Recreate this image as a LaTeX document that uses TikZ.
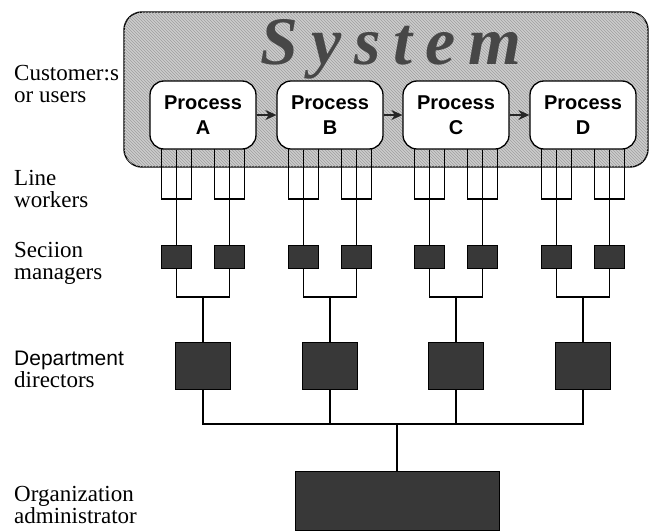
\documentclass[tikz,border=0pt]{standalone}
\usepackage{fontspec}
\setmainfont{Liberation Serif}
\setsansfont{Liberation Sans}
\usetikzlibrary{arrows.meta, patterns, calc}

\begin{document}
\begin{tikzpicture}[x=1pt, y=-1pt,
    process/.style={draw, line width=1.3pt, fill=white, rounded corners=14pt,
        minimum width=106pt, minimum height=68pt, align=center,
        font=\sffamily\bfseries\fontsize{20}{25}\selectfont},
    manager/.style={draw, fill=black!78, minimum width=30pt, minimum height=23pt, inner sep=0pt},
    director/.style={draw, fill=black!78, minimum width=55pt, minimum height=47pt, inner sep=0pt},
    orgbox/.style={draw, fill=black!78, minimum width=204pt, minimum height=59pt, inner sep=0pt},
    wire/.style={line width=1.6pt},
    flow/.style={line width=1.1pt, black!85, -{Stealth[length=11pt, width=10pt]}},
    level/.style={anchor=base west, align=left, inner sep=0pt,
        font=\fontsize{23}{22}\selectfont}]

    \useasboundingbox (0,0) rectangle (653,530);

    % 1. The system frame with its title
    \draw[line width=1.4pt, fill=gray!40, rounded corners=18pt,
        postaction={pattern=north west lines, pattern color=gray!75}]
        (124,12) rectangle (648,167);
    \node[anchor=base, inner sep=0pt, text=black!72,
        font=\bfseries\itshape\fontsize{68}{68}\selectfont] (sys) at (391,64)
        {S\kern13pt y\kern13pt s\kern13pt t\kern13pt e\kern13pt m};

    % 2. Processes, their pins and the section managers under them
    \foreach \p/\x in {A/203, B/330, C/456, D/583} {
        \node[process] (p\p) at (\x,115) {Process\\\p};
        \foreach \i/\s in {1/-26.5, 2/26.5} {
            \draw[wire] (\x+\s-15,149) -- (\x+\s-15,199) -- (\x+\s+15,199) -- (\x+\s+15,149);
            \node[manager] (m\p\i) at (\x+\s,256.5) {};
            \draw[wire] (m\p\i.north |- p\p.south) -- (m\p\i.north);
        }
        % join the two managers and go down to the director
        \coordinate (j\p) at (\x,297);
        \draw[wire] (m\p1.south) |- (j\p) -| (m\p2.south);
        \node[director] (d\p) at (\x,365.5) {};
        \draw[wire] (j\p) -- (d\p.north);
    }

    % 3. Flow between the processes
    \draw[flow] (pA) -- (pB);
    \draw[flow] (pB) -- (pC);
    \draw[flow] (pC) -- (pD);

    % 4. Directors report to the administrator
    \node[orgbox] (org) at (397,500.5) {};
    \path (org.north) ++(0,-47) coordinate (bus);
    \draw[wire] (dA.south) |- (bus) -| (dD.south);
    \draw[wire] (dB.south) -- (dB.south |- bus);
    \draw[wire] (dC.south) -- (dC.south |- bus);
    \draw[wire] (bus) -- (org.north);

    % 5. Level labels on the left (placed by their last line)
    \foreach \n/\y/\txt in {
        cust/102/{Customer:s\\or users},
        work/207/{Line\\workers},
        sect/279/{Seciion\\managers},
        dept/387/{{\sffamily\fontsize{21}{22}\selectfont Department}\\directors},
        admin/523/{Organization\\administrator}%
    } {
        \node[level] (l\n) at (14,\y) {\txt};
    }

\end{tikzpicture}
\end{document}
